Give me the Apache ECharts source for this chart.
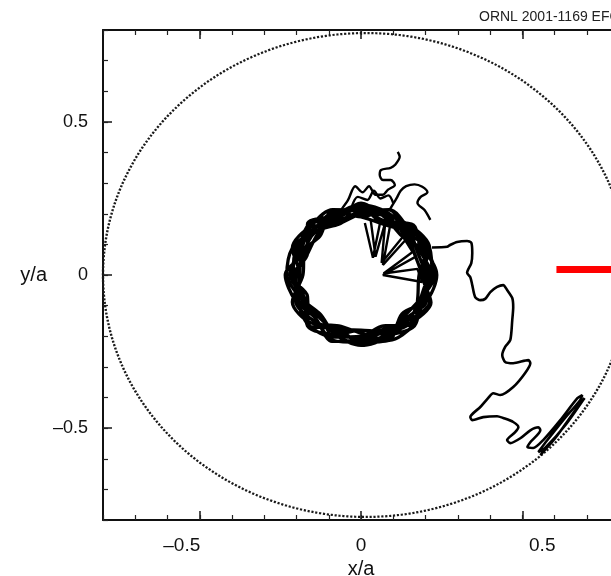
<!DOCTYPE html>
<html>
<head>
<meta charset="utf-8">
<script src="https://cdn.jsdelivr.net/npm/echarts@6/dist/echarts.min.js"></script>
<style>
  html, body { margin: 0; padding: 0; background: #fff; }
  #main { width: 611px; height: 576px; }
</style>
</head>
<body>
<div id="main"></div>
<script>
// plasma boundary (dotted), centre and radii in x/a, y/a
const boundaryCenter = [0.015, 0];
const boundaryRadii = [0.815, 0.79];

// confined orbit: many gyrations around the axis
const confinedOrbit = [
  [0.20, 0], [0.194, 0.080], [0.156, 0.156], [0.080, 0.194], [0, 0.20], [-0.073, 0.176], [-0.141, 0.141], [-0.203, 0.084],
  [-0.21, 0], [-0.185, -0.077], [-0.134, -0.134], [-0.077, -0.185], [0, -0.21], [0.084, -0.203], [0.148, -0.148], [0.185, -0.077],
  [0.22, 0], [0.213, 0.088], [0.148, 0.148], [0.073, 0.176], [0, 0.21], [-0.088, 0.213], [-0.156, 0.156], [-0.185, 0.077],
  [-0.19, 0], [-0.194, -0.080], [-0.163, -0.163], [-0.084, -0.203], [0, -0.20], [0.073, -0.176], [0.148, -0.148], [0.213, -0.088],
  [0.19, 0], [0.166, 0.069], [0.141, 0.141], [0.084, 0.203], [0, 0.23], [-0.080, 0.194], [-0.134, 0.134], [-0.166, 0.069],
  [-0.20, 0], [-0.203, -0.084], [-0.148, -0.148], [-0.073, -0.176], [0, -0.18], [0.077, -0.185], [0.156, -0.156], [0.194, -0.080],
  [0.21, 0], [0.185, 0.077], [0.134, 0.134], [0.080, 0.194], [0, 0.22], [-0.077, 0.185], [-0.163, 0.163], [-0.194, 0.080],
  [-0.22, 0], [-0.176, -0.073], [-0.141, -0.141], [-0.088, -0.213], [0, -0.22], [0.080, -0.194], [0.134, -0.134], [0.185, -0.077],
  [0.23, 0], [0.203, 0.084], [0.141, 0.141], [0.069, 0.166], [0, 0.19], [-0.084, 0.203], [-0.148, 0.148], [-0.213, 0.088],
  [-0.23, 0], [-0.185, -0.077], [-0.127, -0.127], [-0.080, -0.194], [0, -0.23], [0.084, -0.203], [0.141, -0.141], [0.203, -0.084],
  [0.20, 0], [0.176, 0.073], [0.148, 0.148], [0.088, 0.213], [0, 0.20], [-0.069, 0.166], [-0.141, 0.141], [-0.176, 0.073],
  [-0.18, 0], [-0.213, -0.088], [-0.156, -0.156], [-0.069, -0.166], [0, -0.19], [0.088, -0.213], [0.163, -0.163], [0.194, -0.080],
  [0.22, 0], [0.185, 0.077], [0.163, 0.163], [0.073, 0.176], [0, 0.21], [-0.069, 0.166], [-0.156, 0.156], [-0.213, 0.088],
  [-0.19, 0], [-0.194, -0.080], [-0.127, -0.127], [-0.084, -0.203], [0, -0.20], [0.069, -0.166], [0.163, -0.163], [0.176, -0.073],
  [0.18, 0], [0.203, 0.084], [0.141, 0.141], [0.088, 0.213], [0, 0.19], [-0.088, 0.213], [-0.127, 0.127], [-0.185, 0.077],
  [-0.22, 0], [-0.166, -0.069], [-0.163, -0.163], [-0.073, -0.176], [0, -0.22], [0.088, -0.213], [0.127, -0.127], [0.203, -0.084],
  [0.235, 0], [0.194, 0.080], [0.127, 0.127], [0.077, 0.185], [0, 0.235], [-0.077, 0.185], [-0.148, 0.148], [-0.176, 0.073],
  [-0.235, 0], [-0.203, -0.084], [-0.141, -0.141], [-0.090, -0.217], [0, -0.21], [0.077, -0.185], [0.156, -0.156], [0.217, -0.090],
  [0.19, 0], [0.213, 0.088], [0.156, 0.156], [0.069, 0.166], [0, 0.22], [-0.080, 0.194], [-0.166, 0.166], [-0.166, 0.069],
  [-0.21, 0], [-0.176, -0.073], [-0.166, -0.166], [-0.080, -0.194], [0, -0.18], [0.080, -0.194], [0.166, -0.166], [0.185, -0.077],
  [0.21, 0]
];

// fast excursions toward the centre
const fastSpokes = [
  [0.012, 0.17], [0.037, 0.056], [0.06, 0.175], [0.09, 0.16], [0.068, 0.033],
  [0.143, 0.12], [0.17, 0.06], [0.068, 0.0], [0.19, -0.023],
  [0.175, 0.02], [0.07, 0.005], [0.16, 0.075], [0.13, 0.125], [0.064, 0.04],
  [0.075, 0.17], [0.045, 0.06], [0.03, 0.18]
];

// wandering above the orbit
const upperWanderA = [
  [-0.06, 0.215], [-0.04, 0.245], [-0.018, 0.29], [0.005, 0.27], [0.025, 0.29], [0.045, 0.262],
  [0.068, 0.262], [0.083, 0.278], [0.105, 0.294], [0.092, 0.31], [0.068, 0.31], [0.058, 0.327],
  [0.062, 0.343], [0.092, 0.35], [0.105, 0.359], [0.12, 0.386], [0.114, 0.402]
];
const upperWanderB = [
  [0.09, 0.215], [0.11, 0.25], [0.123, 0.275], [0.14, 0.29], [0.166, 0.296], [0.19, 0.288],
  [0.206, 0.27], [0.185, 0.255], [0.175, 0.235], [0.197, 0.212], [0.215, 0.18]
];
const upperWanderC = [
  [-0.03, 0.22], [-0.01, 0.255], [0.02, 0.245], [0.04, 0.275], [0.06, 0.25], [0.085, 0.26], [0.1, 0.235]
];

// escaping path toward the wall
const escapePath = [
  [0.22, 0.09], [0.267, 0.092], [0.276, 0.098], [0.298, 0.108], [0.329, 0.111], [0.342, 0.105],
  [0.345, 0.072], [0.342, 0.039], [0.329, 0.007], [0.339, -0.007], [0.345, -0.033], [0.354, -0.072],
  [0.37, -0.082], [0.385, -0.078], [0.401, -0.056], [0.422, -0.039], [0.441, -0.033], [0.453, -0.049],
  [0.469, -0.075], [0.472, -0.105], [0.469, -0.147], [0.463, -0.212], [0.447, -0.235], [0.438, -0.261],
  [0.447, -0.284], [0.472, -0.288], [0.519, -0.278], [0.525, -0.288], [0.509, -0.32], [0.472, -0.366],
  [0.432, -0.392], [0.41, -0.386], [0.394, -0.402], [0.37, -0.431], [0.339, -0.464], [0.345, -0.474],
  [0.379, -0.464], [0.422, -0.461], [0.441, -0.467], [0.472, -0.48], [0.488, -0.497], [0.478, -0.513],
  [0.453, -0.539], [0.463, -0.549], [0.494, -0.533], [0.525, -0.507], [0.55, -0.497], [0.556, -0.507],
  [0.525, -0.546], [0.516, -0.562], [0.534, -0.565], [0.565, -0.539], [0.618, -0.474], [0.671, -0.402],
  [0.686, -0.392], [0.68, -0.408], [0.627, -0.474], [0.578, -0.539], [0.55, -0.578], [0.571, -0.565],
  [0.634, -0.49], [0.693, -0.402], [0.665, -0.441], [0.602, -0.533], [0.556, -0.588]
];

// red marker at the outboard side
const redMarker = [[0.606, 0.018], [0.8, 0.018]];

const tickValues = [-0.5, 0, 0.5];
const tickLabels = ['\u20130.5', '0', '0.5'];

const myChart = echarts.init(document.getElementById('main'));

const labelFont = { fontSize: 18, color: '#111', fontFamily: 'Liberation Sans' };
function labelOf(v) {
  const i = tickValues.findIndex(t => Math.abs(t - v) < 1e-6);
  return i < 0 ? '' : tickLabels[i];
}
// bottom labels sit a little outward of their ticks in the original
function xLabelOf(v) {
  const s = labelOf(v);
  if (v < -1e-6) return '{neg|' + s + '}';
  if (v > 1e-6) return '{pos|' + s + '}';
  return '{mid|' + s + '}';
}
const axisLine = { show: true, onZero: false, lineStyle: { color: '#111', width: 2 } };

function minorAxis(extra) {
  return Object.assign({
    type: 'value', min: -0.8, max: 0.8, interval: 0.1,
    axisLine: axisLine,
    axisTick: { show: true, inside: true, length: 5, lineStyle: { color: '#222', width: 1.2 } },
    axisLabel: { show: false },
    splitLine: { show: false }
  }, extra);
}
function majorAxis(extra) {
  return Object.assign({
    type: 'value', min: -0.8, max: 0.8, interval: 0.1,
    axisLine: { show: false, onZero: false },
    axisTick: { show: true, inside: true, length: 9, customValues: tickValues, lineStyle: { color: '#222', width: 1.6 } },
    axisLabel: { show: false },
    splitLine: { show: false }
  }, extra);
}

const option = {
  animation: false,
  grid: { left: 103, top: 30, width: 516, height: 490, outerBoundsMode: 'none' },
  graphic: [{
    type: 'text', left: 479, top: 10,
    style: { text: 'ORNL 2001-1169 EFG', font: '14px "Liberation Sans"', fill: '#222' }
  }],
  xAxis: [
    minorAxis({
      position: 'bottom',
      name: 'x/a', nameLocation: 'middle', nameGap: 36,
      nameTextStyle: { fontSize: 20, color: '#111', fontFamily: 'Liberation Sans' },
      axisLabel: Object.assign({
        show: true, margin: 16, customValues: tickValues, formatter: xLabelOf,
        rich: {
          neg: { fontSize: 19, color: '#111', fontFamily: 'Liberation Sans', padding: [0, 36, 0, 0] },
          mid: { fontSize: 19, color: '#111', fontFamily: 'Liberation Sans' },
          pos: { fontSize: 19, color: '#111', fontFamily: 'Liberation Sans', padding: [0, 0, 0, 40] }
        }
      }, labelFont)
    }),
    minorAxis({ position: 'top' }),
    majorAxis({ position: 'bottom' }),
    majorAxis({ position: 'top' })
  ],
  yAxis: [
    minorAxis({
      position: 'left',
      name: 'y/a', nameLocation: 'middle', nameGap: 56, nameRotate: 0,
      nameTextStyle: { fontSize: 20, color: '#111', fontFamily: 'Liberation Sans' },
      axisLabel: Object.assign({ show: true, margin: 15, customValues: tickValues, formatter: labelOf }, labelFont)
    }),
    majorAxis({ position: 'left' })
  ],
  series: [
    {
      type: 'custom', name: 'boundary', coordinateSystem: 'cartesian2d', clip: false,
      data: [[boundaryCenter[0], boundaryCenter[1], boundaryRadii[0], boundaryRadii[1]]],
      renderItem: function (params, api) {
        const c = api.coord([api.value(0), api.value(1)]);
        const s = api.size([api.value(2), api.value(3)]);
        return {
          type: 'circle', x: c[0], y: c[1], scaleX: s[0] / s[1], scaleY: 1,
          shape: { cx: 0, cy: 0, r: s[1] },
          style: { fill: null, stroke: '#1a1a1a', lineWidth: 2.2, lineDash: [2, 1.6], strokeNoScale: true }
        };
      }
    },
    { type: 'line', name: 'orbit', data: confinedOrbit, smooth: 0.3, showSymbol: false, lineStyle: { color: '#000', width: 3.3 } },
    { type: 'line', name: 'spokes', data: fastSpokes, showSymbol: false, lineStyle: { color: '#000', width: 2.4 } },
    { type: 'line', name: 'upperA', data: upperWanderA, smooth: 0.3, showSymbol: false, lineStyle: { color: '#000', width: 2.4 } },
    { type: 'line', name: 'upperB', data: upperWanderB, smooth: 0.3, showSymbol: false, lineStyle: { color: '#000', width: 2.4 } },
    { type: 'line', name: 'upperC', data: upperWanderC, smooth: 0.3, showSymbol: false, lineStyle: { color: '#000', width: 2.4 } },
    { type: 'line', name: 'escape', data: escapePath, smooth: 0.25, showSymbol: false, lineStyle: { color: '#000', width: 2.6 } },
    { type: 'line', name: 'marker', data: redMarker, showSymbol: false, lineStyle: { color: '#ff0000', width: 7 } }
  ]
};

myChart.setOption(option);
</script>
</body>
</html>
